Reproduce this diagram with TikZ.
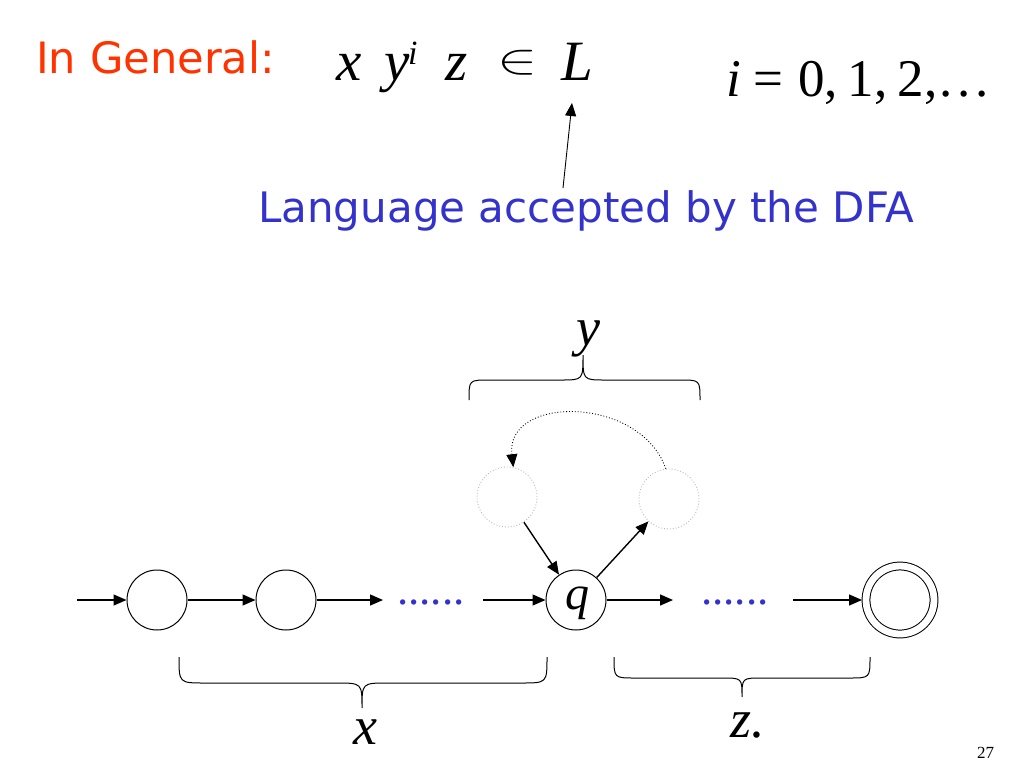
\RequirePackage{fix-cm}
\documentclass[tikz,border=0pt]{standalone}
\usepackage{fontspec}
\setmainfont{Liberation Serif}
\newfontfamily\comic{DejaVu Sans}
\usetikzlibrary{arrows.meta}
\definecolor{tred}{RGB}{255,51,0}
\definecolor{tblue}{RGB}{51,51,204}
\definecolor{ghost}{RGB}{185,185,185}
\begin{document}
\begin{tikzpicture}[x=1pt,y=-1pt,
  state/.style={draw,circle,minimum size=60pt,inner sep=0pt,line width=1pt},
  ghoststate/.style={draw=ghost,dotted,circle,minimum size=60pt,inner sep=0pt,line width=0.9pt},
  acc/.style={draw,circle,minimum size=68pt,inner sep=0pt,double,double distance=6.8pt,line width=1pt,outer sep=4pt},
  trans/.style={-{Triangle[length=13pt,width=11pt]},line width=1.4pt},
  thinarr/.style={-{Triangle[length=13pt,width=11pt]},line width=0.9pt},
  brace/.style={line width=1pt},
  big/.style={font=\fontsize{57}{60}\selectfont\itshape,inner sep=0pt,anchor=base west},
  bigup/.style={font=\fontsize{53}{56}\selectfont,inner sep=0pt,anchor=base west},
  lab/.style={font=\fontsize{54}{58}\selectfont\itshape,inner sep=0pt},
  dots/.style={font=\fontsize{45}{50}\selectfont,text=tblue,inner sep=0pt,anchor=base west},
  comictext/.style={font=\fontsize{42}{50}\selectfont\comic,inner sep=0pt,anchor=base west}
]
\useasboundingbox[fill=white] (0,0) rectangle (1024,768);

% header
\node[comictext,text=tred,font=\fontsize{43.2}{50}\selectfont\comic] (gen) at (36,73) {In General:};
\node[big] (fx) at (336,81) {x};
\node[big] (fy) at (384,81) {y};
\node[big,font=\fontsize{34}{36}\selectfont\itshape] (fi) at (408,64) {i};
\node[big] (fz) at (445,81) {z};
\node[big,font=\fontsize{43}{45}\selectfont] (fin) at (497,74) {\scalebox{1.4}[1]{$\in$}};
\node[big] (fL) at (561,81) {L};

\node[bigup,font=\fontsize{53}{56}\selectfont\itshape] (ri) at (726,96) {i};
\node[bigup] (req) at (753,96) {=};
\node[bigup] (rnum) at (798,96) {0,\hspace{10pt}1,\hspace{10pt}2,\hspace{2pt}.\hspace{5pt}.\hspace{5pt}.};

\node[comictext,text=tblue] (lang) at (258,222) {Language accepted by the DFA};
\coordinate (langtop) at (563,188);
\coordinate (Ltip) at (572,103);
\draw[thinarr] (langtop) -- (Ltip);

% states
\node[state] (c1) at (157,600) {};
\node[state] (c2) at (286,600) {};
\node[state] (q) at (576,600) {};
\node[lab,font=\fontsize{48}{50}\selectfont\itshape] (qlab) at (577,603) {q};
\node[acc] (f) at (900,600) {};
\node[ghoststate] (gl) at (507,497) {};
\node[ghoststate] (gr) at (669,499) {};

\node[dots] (d1) at (397,604.5) {......};
\node[dots] (d2) at (701,604.5) {......};

\coordinate (start) at (77,600);
\coordinate (d1in) at (383,600);
\coordinate (d1out) at (483,600);
\coordinate (d2in) at (673,600);
\coordinate (d2out) at (793,600);

\draw[trans] (start) -- (c1);
\draw[trans] (c1) -- (c2);
\draw[trans] (c2) -- (d1in);
\draw[trans] (d1out) -- (q);
\draw[trans] (q) -- (d2in);
\draw[trans] (d2out) -- (f);
\draw[trans] (gl) -- (q);
\draw[trans] (q) -- (gr);
\draw[-{Triangle[length=13pt,width=11pt]},line width=0.9pt,dotted]
  (gr.96) .. controls (640,395) and (505,395) .. (gl.78);

% braces
\draw[brace] (469,400) .. controls (469,380) .. (489,380) -- (561,380)
  .. controls (583,380) .. (583,355) .. controls (583,380) .. (605,380)
  -- (680,380) .. controls (700,380) .. (700,400);
\draw[brace] (179,657) .. controls (179,683) .. (205,683) -- (336,683)
  .. controls (362,683) .. (362,708) .. controls (362,683) .. (388,683)
  -- (521,683) .. controls (547,683) .. (547,657);
\draw[brace] (614,657) .. controls (614,678) .. (635,678) -- (722,678)
  .. controls (742,678) .. (742,697) .. controls (742,678) .. (762,678)
  -- (849,678) .. controls (870,678) .. (870,657);

\node[lab] (ylab) at (588,339) {y};
\node[lab] (xlab) at (365,732) {x};
\node[lab,anchor=base] (zlab) at (748,737) {z.};
\node[font=\fontsize{17}{18}\selectfont,anchor=base west,inner sep=0pt] (pg) at (977,758) {27};
\end{tikzpicture}
\end{document}
